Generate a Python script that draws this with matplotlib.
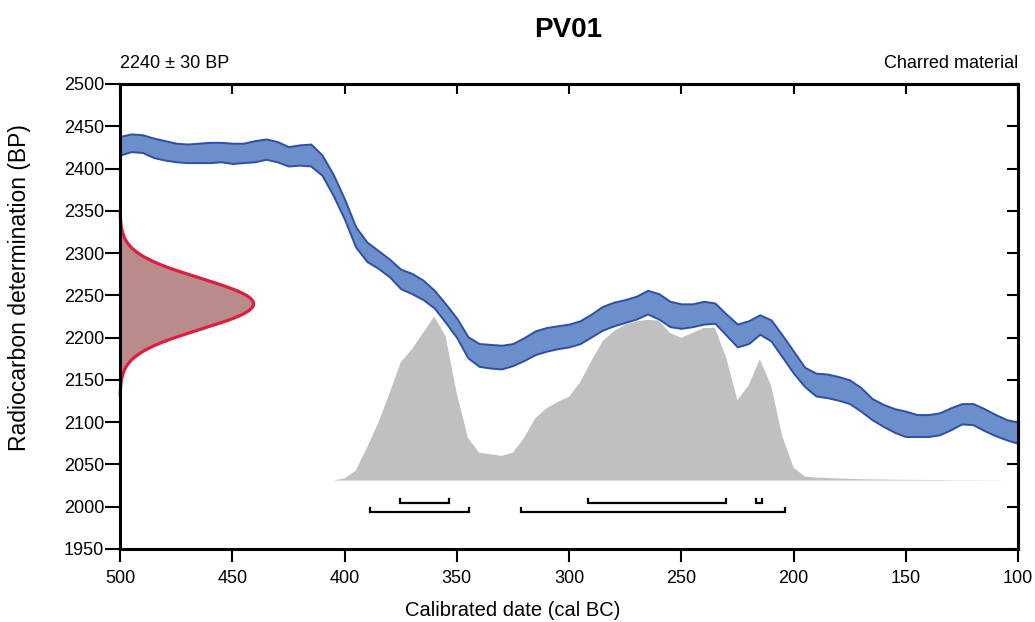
import numpy as np
import matplotlib
matplotlib.use("Agg")
import matplotlib.pyplot as plt

plt.rcParams['font.family'] = ['Liberation Sans', 'DejaVu Sans']

# radiocarbon measurement
c14_mean = 2240
c14_error = 30
sample_name = "PV01"
material = "Charred material"

# calibration curve band (cal BC, upper / lower BP), 5-year steps
cal_years = list(range(500, 95, -5))
curve_upper = [2438, 2441, 2440, 2436, 2433, 2430, 2429, 2430, 2431, 2431,
               2430, 2430, 2433, 2435, 2432, 2426, 2428, 2429, 2416, 2393,
               2364, 2331, 2313, 2303, 2293, 2281, 2276, 2268, 2256, 2240,
               2223, 2201, 2193, 2192, 2191, 2193, 2200, 2208, 2212, 2214,
               2216, 2220, 2228, 2237, 2242, 2245, 2249, 2256, 2252, 2243,
               2240, 2240, 2243, 2241, 2228, 2216, 2220, 2227, 2221, 2203,
               2184, 2165, 2158, 2157, 2154, 2150, 2141, 2128, 2121, 2116,
               2113, 2109, 2109, 2111, 2117, 2122, 2122, 2116, 2109, 2103,
               2100]
curve_lower = [2416, 2420, 2419, 2413, 2410, 2408, 2407, 2407, 2407, 2408,
               2406, 2407, 2408, 2411, 2408, 2403, 2404, 2403, 2392, 2368,
               2340, 2307, 2290, 2282, 2272, 2258, 2252, 2245, 2235, 2218,
               2200, 2176, 2166, 2164, 2163, 2167, 2173, 2180, 2184, 2187,
               2189, 2193, 2201, 2209, 2214, 2218, 2222, 2228, 2222, 2213,
               2211, 2213, 2216, 2217, 2203, 2189, 2193, 2204, 2196, 2177,
               2158, 2142, 2131, 2129, 2126, 2122, 2113, 2103, 2095, 2088,
               2083, 2083, 2083, 2085, 2091, 2098, 2097, 2090, 2084, 2079,
               2075]

# calibrated probability (relative), cal BC
prob_years = list(range(405, 95, -5))
prob_values = [0.0, 0.012, 0.06, 0.20, 0.35, 0.53, 0.72, 0.80, 0.90,
               1.0, 0.88, 0.53, 0.26, 0.17, 0.16, 0.15, 0.17, 0.26, 0.38,
               0.44, 0.48, 0.51, 0.60, 0.73, 0.85, 0.91, 0.95, 0.97, 0.98,
               0.975, 0.90, 0.87, 0.90, 0.93, 0.93, 0.75, 0.49, 0.58, 0.74,
               0.58, 0.27, 0.08, 0.024, 0.018, 0.016, 0.012, 0.010, 0.008, 0.007,
               0.006, 0.005, 0.004, 0.004, 0.003, 0.003, 0.002, 0.002, 0.002, 0.001,
               0.001, 0.0, 0.0]

# highest posterior density ranges (cal BC)
hpd_68 = [(375.5, 353.5), (291.5, 230), (216.5, 214)]
hpd_95 = [(388.5, 344.5), (321.5, 204)]

fig = plt.figure(figsize=(10.35, 6.22), dpi=100)
ax = fig.add_axes([120 / 1035, 1 - 549 / 622, 898 / 1035, 465 / 622])

# calibration curve
ax.fill_between(cal_years, curve_lower, curve_upper, facecolor='#6a8fca',
                edgecolor='#2f4ea6', linewidth=1.4, zorder=3)

# calibrated distribution
base = 2031
scale = 194
ax.fill_between(prob_years, base, base + scale * np.array(prob_values),
                facecolor='#c0c0c0', edgecolor='none', zorder=2)

# radiocarbon date on y axis
bp = np.linspace(c14_mean - 110, c14_mean + 110, 300)
dens = np.exp(-0.5 * ((bp - c14_mean) / c14_error) ** 2)
xg = 500 - 59.5 * dens
ax.fill_betweenx(bp, 500, xg, facecolor='#b98b8b', edgecolor='none', zorder=4)
ax.plot(xg, bp, color='#dc1f3e', linewidth=2.3, zorder=6, clip_on=False,
        solid_capstyle='butt')

# HPD brackets
def bracket(x0, x1, y):
    h = 4.5
    ax.plot([x0, x0, x1, x1], [y + h, y, y, y + h], color='black',
            linewidth=1.6, zorder=5, solid_joinstyle='miter')

for a, b in hpd_68:
    bracket(a, b, 2004.5)
for a, b in hpd_95:
    bracket(a, b, 1994)

ax.set_xlim(500, 100)
ax.set_ylim(1950, 2500)
ax.set_xticks(range(500, 99, -50))
ax.set_yticks(range(1950, 2501, 50))
ax.tick_params(axis='both', labelsize=13, width=1.5, color='black')
ax.tick_params(axis='y', length=10.5, pad=1)
ax.tick_params(axis='x', length=9, pad=6)
for s in ax.spines.values():
    s.set_linewidth(2.2)
    s.set_zorder(7)

top = ax.secondary_xaxis('top')
top.set_xticks(range(500, 99, -50))
top.tick_params(direction='in', length=7, width=1.5, labeltop=False)
top.spines['top'].set_linewidth(2.2)
right = ax.secondary_yaxis('right')
right.set_yticks(range(1950, 2501, 50))
right.tick_params(direction='in', length=8, width=1.5, labelright=False)
right.spines['right'].set_linewidth(2.2)

fig.text(513 / 1035, 1 - 610 / 622, "Calibrated date (cal BC)",
         fontsize=14.5, ha='center', va='center')
fig.text(20 / 1035, 1 - 288 / 622, "Radiocarbon determination (BP)",
         fontsize=16.5, ha='center', va='center', rotation=90)

fig.text(568 / 1035, 1 - 30 / 622, sample_name, fontsize=20,
         fontweight='bold', ha='center', va='center')
fig.text(120 / 1035, 1 - 68 / 622, f"{c14_mean} ± {c14_error} BP",
         fontsize=13, ha='left', va='baseline')
fig.text(1018 / 1035, 1 - 68 / 622, material, fontsize=13,
         ha='right', va='baseline')

fig.savefig("out.png", dpi=100)
